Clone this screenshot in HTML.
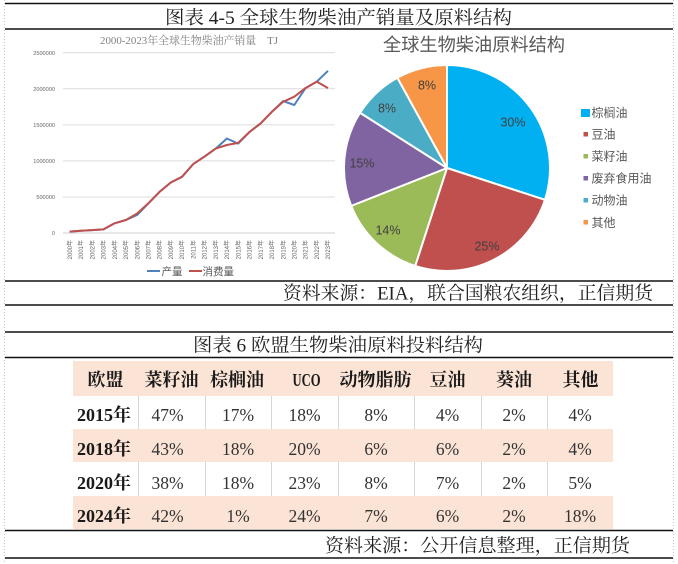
<!DOCTYPE html>
<html><head><meta charset="utf-8"><style>
html,body{margin:0;padding:0;background:#fff;}
svg{display:block;}
.t{font-family:"Liberation Serif","Noto Serif CJK SC",serif;}
.s{font-family:"Liberation Sans","Noto Sans CJK SC",sans-serif;}
</style></head><body>
<svg width="678" height="564" viewBox="0 0 678 564" xmlns="http://www.w3.org/2000/svg">
<rect width="678" height="564" fill="#fff"/>
<!-- page edge dotted lines -->
<line x1="4.5" y1="0" x2="4.5" y2="564" stroke="#c8c8c8" stroke-width="1" stroke-dasharray="1,2"/>
<line x1="673.5" y1="0" x2="673.5" y2="564" stroke="#c8c8c8" stroke-width="1" stroke-dasharray="1,2"/>

<!-- block 1 frame lines -->
<line x1="5" y1="3.5" x2="673" y2="3.5" stroke="#111" stroke-width="1.6"/>
<line x1="5" y1="29" x2="673" y2="29" stroke="#111" stroke-width="1.4"/>
<line x1="5" y1="281" x2="673" y2="281" stroke="#111" stroke-width="1.4"/>
<line x1="5" y1="305" x2="673" y2="305" stroke="#111" stroke-width="1.4"/>
<text class="t" x="165" y="24" font-size="18.5" fill="#222" textLength="347" lengthAdjust="spacingAndGlyphs">图表 4-5 全球生物柴油产销量及原料结构</text>
<text class="t" x="283" y="299.5" font-size="18.5" fill="#222" textLength="370" lengthAdjust="spacingAndGlyphs">资料来源：EIA，联合国粮农组织，正信期货</text>

<!-- line chart -->
<text class="t" x="100" y="44" font-size="11" fill="#808080" textLength="178" lengthAdjust="spacingAndGlyphs">2000-2023年全球生物柴油产销量　TJ</text>
<g stroke="#dcdcdc" stroke-width="1">
<line x1="63" y1="52.75" x2="335" y2="52.75"/>
<line x1="63" y1="88.8" x2="335" y2="88.8"/>
<line x1="63" y1="124.85" x2="335" y2="124.85"/>
<line x1="63" y1="160.9" x2="335" y2="160.9"/>
<line x1="63" y1="196.95" x2="335" y2="196.95"/>
<line x1="63" y1="233" x2="335" y2="233" stroke="#cfcfcf"/>
</g>
<g class="s" font-size="5.6" fill="#666" text-anchor="end">
<text x="55" y="54.8">2500000</text>
<text x="55" y="90.8">2000000</text>
<text x="55" y="126.9">1500000</text>
<text x="55" y="162.9">1000000</text>
<text x="55" y="199">500000</text>
<text x="55" y="235">0</text>
</g>
<g class="s" font-size="6" fill="#666" text-anchor="end">
<text transform="translate(71.9,240) rotate(-90)">2000年</text>
<text transform="translate(83.1,240) rotate(-90)">2001年</text>
<text transform="translate(94.4,240) rotate(-90)">2002年</text>
<text transform="translate(105.6,240) rotate(-90)">2003年</text>
<text transform="translate(116.8,240) rotate(-90)">2004年</text>
<text transform="translate(128.1,240) rotate(-90)">2005年</text>
<text transform="translate(139.3,240) rotate(-90)">2006年</text>
<text transform="translate(150.5,240) rotate(-90)">2007年</text>
<text transform="translate(161.7,240) rotate(-90)">2008年</text>
<text transform="translate(173,240) rotate(-90)">2009年</text>
<text transform="translate(184.2,240) rotate(-90)">2010年</text>
<text transform="translate(195.4,240) rotate(-90)">2011年</text>
<text transform="translate(206.7,240) rotate(-90)">2012年</text>
<text transform="translate(217.9,240) rotate(-90)">2013年</text>
<text transform="translate(229.1,240) rotate(-90)">2014年</text>
<text transform="translate(240.4,240) rotate(-90)">2015年</text>
<text transform="translate(251.6,240) rotate(-90)">2016年</text>
<text transform="translate(262.8,240) rotate(-90)">2017年</text>
<text transform="translate(274,240) rotate(-90)">2018年</text>
<text transform="translate(285.3,240) rotate(-90)">2019年</text>
<text transform="translate(296.5,240) rotate(-90)">2020年</text>
<text transform="translate(307.7,240) rotate(-90)">2021年</text>
<text transform="translate(319,240) rotate(-90)">2022年</text>
<text transform="translate(330.2,240) rotate(-90)">2023年</text>
</g>
<polyline fill="none" stroke="#4F81BD" stroke-width="2" stroke-linejoin="round" points="69.7,231.6 80.9,230.8 92.2,230.1 103.4,229.4 114.6,223.3 125.9,220 137.1,215 148.3,203.4 159.5,191.9 170.8,182.5 182,176.8 193.2,164.1 204.5,156.6 215.7,148.6 226.9,138.5 238.2,143.6 249.4,132.1 260.6,123.4 271.8,111.9 283.1,101.1 294.3,105 305.5,88.1 316.8,81.6 328,70.8"/>
<polyline fill="none" stroke="#C0504D" stroke-width="2" stroke-linejoin="round" points="69.7,231.6 80.9,230.8 92.2,230.1 103.4,229.4 114.6,223.3 125.9,220 137.1,213.5 148.3,203.4 159.5,191.9 170.8,182.5 182,176.8 193.2,164.1 204.5,156.6 215.7,148.6 226.9,145 238.2,142.9 249.4,132.1 260.6,123.4 271.8,111.9 283.1,101.8 294.3,96.7 305.5,88.1 316.8,81.6 328,88.1"/>
<line x1="147" y1="271" x2="160" y2="271" stroke="#4F81BD" stroke-width="2"/>
<text class="s" x="161.5" y="275" font-size="10.5" fill="#595959">产量</text>
<line x1="189" y1="271" x2="202" y2="271" stroke="#C0504D" stroke-width="2"/>
<text class="s" x="202.5" y="275" font-size="10.5" fill="#595959">消费量</text>

<!-- pie chart -->
<text class="s" x="474" y="51" font-size="18" fill="#595959" text-anchor="middle" textLength="182" lengthAdjust="spacingAndGlyphs">全球生物柴油原料结构</text>
<g stroke="#fff" stroke-width="2" stroke-linejoin="round">
<path d="M447,168 L447,65 A103,103 0 0 1 544.96,199.83 Z" fill="#00B0F0"/>
<path d="M447,168 L544.96,199.83 A103,103 0 0 1 415.17,265.96 Z" fill="#C0504D"/>
<path d="M447,168 L415.17,265.96 A103,103 0 0 1 351.21,205.88 Z" fill="#9BBB59"/>
<path d="M447,168 L351.21,205.88 A103,103 0 0 1 360.05,112.77 Z" fill="#8064A2"/>
<path d="M447,168 L360.05,112.77 A103,103 0 0 1 397.38,77.76 Z" fill="#4BACC6"/>
<path d="M447,168 L397.38,77.76 A103,103 0 0 1 447,65 Z" fill="#F79646"/>
</g>
<g class="s" font-size="12.5" fill="#404040" text-anchor="middle">
<text x="513" y="126.5">30%</text>
<text x="487" y="250.5">25%</text>
<text x="388" y="234.5">14%</text>
<text x="362" y="167.5">15%</text>
<text x="387" y="112.5">8%</text>
<text x="427" y="89.5">8%</text>
</g>
<rect x="581" y="109" width="9" height="8" fill="#00B0F0"/>
<rect x="583.5" y="132" width="4.5" height="4.5" fill="#C0504D"/>
<rect x="583.5" y="154" width="4.5" height="4.5" fill="#9BBB59"/>
<rect x="583.5" y="176" width="4.5" height="4.5" fill="#8064A2"/>
<rect x="583.5" y="198" width="4.5" height="4.5" fill="#4BACC6"/>
<rect x="583.5" y="220" width="4.5" height="4.5" fill="#F79646"/>
<g class="s" font-size="12" fill="#595959">
<text x="591.5" y="117">棕榈油</text>
<text x="591.5" y="138.7">豆油</text>
<text x="591.5" y="160.4">菜籽油</text>
<text x="591.5" y="182.6">废弃食用油</text>
<text x="591.5" y="204.4">动物油</text>
<text x="591.5" y="227">其他</text>
</g>

<!-- block 2 -->
<line x1="5" y1="332" x2="673" y2="332" stroke="#111" stroke-width="1.4"/>
<line x1="5" y1="357.5" x2="673" y2="357.5" stroke="#111" stroke-width="1.4"/>
<line x1="5" y1="530.5" x2="673" y2="530.5" stroke="#111" stroke-width="1.4"/>
<line x1="5" y1="558" x2="673" y2="558" stroke="#111" stroke-width="1.4"/>
<text class="t" x="193" y="351.5" font-size="18.5" fill="#222" textLength="290" lengthAdjust="spacingAndGlyphs">图表 6 欧盟生物柴油原料投料结构</text>
<text class="t" x="325" y="552" font-size="18.5" fill="#222" textLength="305" lengthAdjust="spacingAndGlyphs">资料来源：公开信息整理，正信期货</text>

<!-- table -->
<rect x="73" y="361" width="540" height="35" fill="#FBE4D5"/>
<rect x="73" y="429" width="540" height="33" fill="#FBE4D5"/>
<rect x="73" y="496" width="540" height="33" fill="#FBE4D5"/>
<g stroke="#d6d6d6" stroke-width="1">
<line x1="138.5" y1="396" x2="138.5" y2="429"/><line x1="205.5" y1="396" x2="205.5" y2="429"/><line x1="271.5" y1="396" x2="271.5" y2="429"/><line x1="338.5" y1="396" x2="338.5" y2="429"/><line x1="414.5" y1="396" x2="414.5" y2="429"/><line x1="481.5" y1="396" x2="481.5" y2="429"/><line x1="547.5" y1="396" x2="547.5" y2="429"/>
<line x1="138.5" y1="462" x2="138.5" y2="496"/><line x1="205.5" y1="462" x2="205.5" y2="496"/><line x1="271.5" y1="462" x2="271.5" y2="496"/><line x1="338.5" y1="462" x2="338.5" y2="496"/><line x1="414.5" y1="462" x2="414.5" y2="496"/><line x1="481.5" y1="462" x2="481.5" y2="496"/><line x1="547.5" y1="462" x2="547.5" y2="496"/>
</g>
<g class="t" font-size="18" font-weight="bold" fill="#1a1a1a" text-anchor="middle">
<text x="105.5" y="386">欧盟</text>
<text x="171.5" y="386">菜籽油</text>
<text x="237" y="386">棕榈油</text>
<text x="306.5" y="386" textLength="28" lengthAdjust="spacingAndGlyphs">UCO</text>
<text x="375.5" y="386">动物脂肪</text>
<text x="447.5" y="386">豆油</text>
<text x="514" y="386">葵油</text>
<text x="580.5" y="386">其他</text>
<text x="104" y="421">2015年</text>
<text x="104" y="455">2018年</text>
<text x="104" y="489">2020年</text>
<text x="104" y="522">2024年</text>
</g>
<g class="t" font-size="17.5" fill="#333" text-anchor="middle">
<text x="167.5" y="421">47%</text><text x="238" y="421">17%</text><text x="304.5" y="421">18%</text><text x="376" y="421">8%</text><text x="447.5" y="421">4%</text><text x="514" y="421">2%</text><text x="580" y="421">4%</text>
<text x="167.5" y="455">43%</text><text x="238" y="455">18%</text><text x="304.5" y="455">20%</text><text x="376" y="455">6%</text><text x="447.5" y="455">6%</text><text x="514" y="455">2%</text><text x="580" y="455">4%</text>
<text x="167.5" y="489">38%</text><text x="238" y="489">18%</text><text x="304.5" y="489">23%</text><text x="376" y="489">8%</text><text x="447.5" y="489">7%</text><text x="514" y="489">2%</text><text x="580" y="489">5%</text>
<text x="167.5" y="522">42%</text><text x="238" y="522">1%</text><text x="304.5" y="522">24%</text><text x="376" y="522">7%</text><text x="447.5" y="522">6%</text><text x="514" y="522">2%</text><text x="580" y="522">18%</text>
</g>
</svg>
</body></html>
